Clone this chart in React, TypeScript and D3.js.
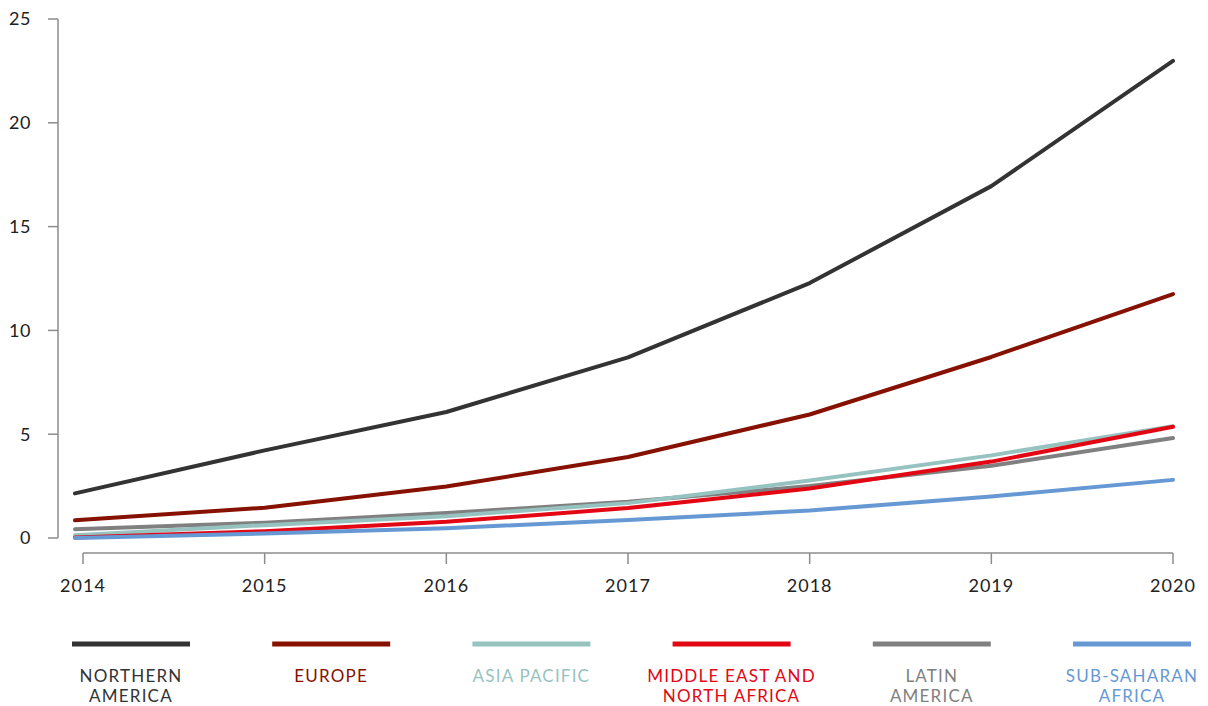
import React from "react";
import * as d3 from "d3";

const years = [2014, 2015, 2016, 2017, 2018, 2019, 2020];
const yTicks = [0, 5, 10, 15, 20, 25];

const northernAmerica = [2.15, 4.22, 6.07, 8.7, 12.28, 16.95, 22.98];
const europe = [0.85, 1.46, 2.48, 3.9, 5.95, 8.72, 11.75];
const asiaPacific = [0.13, 0.62, 1.05, 1.68, 2.77, 3.98, 5.39];
const menaValues = [0.03, 0.33, 0.78, 1.44, 2.38, 3.68, 5.36];
const latinAmerica = [0.42, 0.74, 1.2, 1.75, 2.5, 3.48, 4.82];
const subSaharan = [0.0, 0.22, 0.47, 0.87, 1.32, 2.0, 2.8];

const seriesNames = [
  ["NORTHERN", "AMERICA"],
  ["EUROPE"],
  ["ASIA PACIFIC"],
  ["MIDDLE EAST AND", "NORTH AFRICA"],
  ["LATIN", "AMERICA"],
  ["SUB-SAHARAN", "AFRICA"],
];
const seriesColors = ["#333333", "#861100", "#96c3c0", "#e30613", "#808080", "#6699d3"];
const seriesValues = [northernAmerica, europe, asiaPacific, menaValues, latinAmerica, subSaharan];
const drawOrder = [0, 1, 4, 2, 3, 5];

export default function App() {
  const W = 1208, H = 706;
  const x = d3.scaleLinear().domain([2014, 2020]).range([83, 1173]);
  const y = d3.scaleLinear().domain([0, 25]).range([538, 19]);
  const line = d3
    .line<number>()
    .x((_, i) => (i === 0 ? x(years[i]) - 8 : x(years[i])))
    .y((d) => y(d));
  const font = "Lato, 'Open Sans', sans-serif";
  const axisColor = "#8c8c8c";
  const legendX = d3.scalePoint<number>().domain(d3.range(6)).range([131, 1132]);

  return (
    <svg width={W} height={H} style={{ position: "absolute", left: 0, top: 0 }} fontFamily={font}>
      {/* y axis */}
      <line x1={58} x2={58} y1={y(25)} y2={y(0)} stroke={axisColor} strokeWidth={1.5} />
      {yTicks.map((t) => (
        <g key={t}>
          <line x1={48} x2={58} y1={y(t)} y2={y(t)} stroke={axisColor} strokeWidth={1.5} />
          <text x={31} y={y(t)} dy="0.35em" textAnchor="end" fontSize={18} fill="#222" letterSpacing={0.5}>
            {t}
          </text>
        </g>
      ))}
      {/* x axis */}
      <line x1={x(2014)} x2={x(2020)} y1={553} y2={553} stroke={axisColor} strokeWidth={1.5} />
      {years.map((yr) => (
        <g key={yr}>
          <line x1={x(yr)} x2={x(yr)} y1={553} y2={564} stroke={axisColor} strokeWidth={1.5} />
          <text x={x(yr)} y={592} textAnchor="middle" fontSize={18} fill="#222" letterSpacing={1}>
            {yr}
          </text>
        </g>
      ))}
      {/* lines */}
      {drawOrder.map((i) => (
        <path
          key={i}
          d={line(seriesValues[i]) || ""}
          fill="none"
          stroke={seriesColors[i]}
          strokeWidth={4}
          strokeLinejoin="round"
          strokeLinecap="round"
        />
      ))}
      {/* legend */}
      {seriesNames.map((name, i) => {
        const cx = legendX(i) as number;
        return (
          <g key={i}>
            <line x1={cx - 59} x2={cx + 59} y1={644} y2={644} stroke={seriesColors[i]} strokeWidth={5} />
            {name.map((ln, j) => (
              <text
                key={j}
                x={cx}
                y={682 + j * 20}
                textAnchor="middle"
                fontSize={17}
                fill={seriesColors[i]}
                letterSpacing={1.2}
              >
                {ln}
              </text>
            ))}
          </g>
        );
      })}
    </svg>
  );
}
